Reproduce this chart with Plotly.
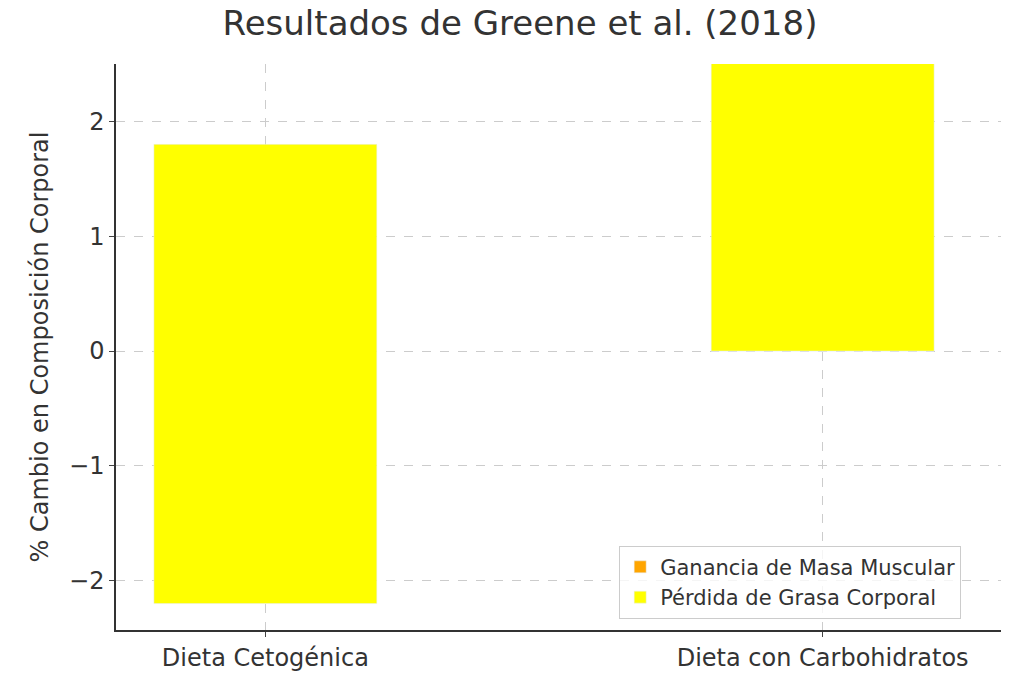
import plotly.graph_objects as go

categories = ["Dieta Cetogénica", "Dieta con Carbohidratos"]
fat_base = [-2.2, 0.0]
fat_height = [4.0, 3.0]

fig = go.Figure()
fig.add_bar(x=[0, 1], y=[0, 0], name="Ganancia de Masa Muscular", marker_color="#FFA500", width=0.4, showlegend=True)
fig.add_bar(x=[0, 1], y=fat_height, base=fat_base, name="Pérdida de Grasa Corporal", marker_color="#FFFF00", width=0.4)

fig.update_layout(
    width=1024, height=689, barmode="overlay",
    paper_bgcolor="white", plot_bgcolor="white",
    margin=dict(l=108, r=31, t=56, b=67),
    font=dict(family="DejaVu Sans", color="#333333", size=22),
    title=dict(text="Resultados de Greene et al. (2018)", x=0.5, xanchor="center", y=0.995, yanchor="top", font=dict(size=34)),
    legend=dict(x=0.955, xanchor="right", y=0.02, yanchor="bottom", bordercolor="#cccccc", borderwidth=1,
                bgcolor="rgba(255,255,255,0.8)", font=dict(size=21), traceorder="normal"),
    xaxis=dict(range=[-0.268, 1.32], tickvals=[0, 1], ticktext=categories, showgrid=True, gridcolor="#cccccc",
               griddash="dash", showline=True, linecolor="#333333", linewidth=1.5, ticks="outside", ticklen=5,
               tickfont=dict(size=24), zeroline=False),
    yaxis=dict(range=[-2.43, 2.5], tickvals=[-2, -1, 0, 1, 2], ticktext=["−2", "−1", "0", "1", "2"],
               showgrid=True, gridcolor="#cccccc", griddash="dash", showline=True, linecolor="#333333", linewidth=1.5,
               ticks="outside", ticklen=5, zeroline=False, tickfont=dict(size=24),
               title=dict(text="% Cambio en Composición Corporal", font=dict(size=24), standoff=14)),
)
fig.write_html("out.html")
